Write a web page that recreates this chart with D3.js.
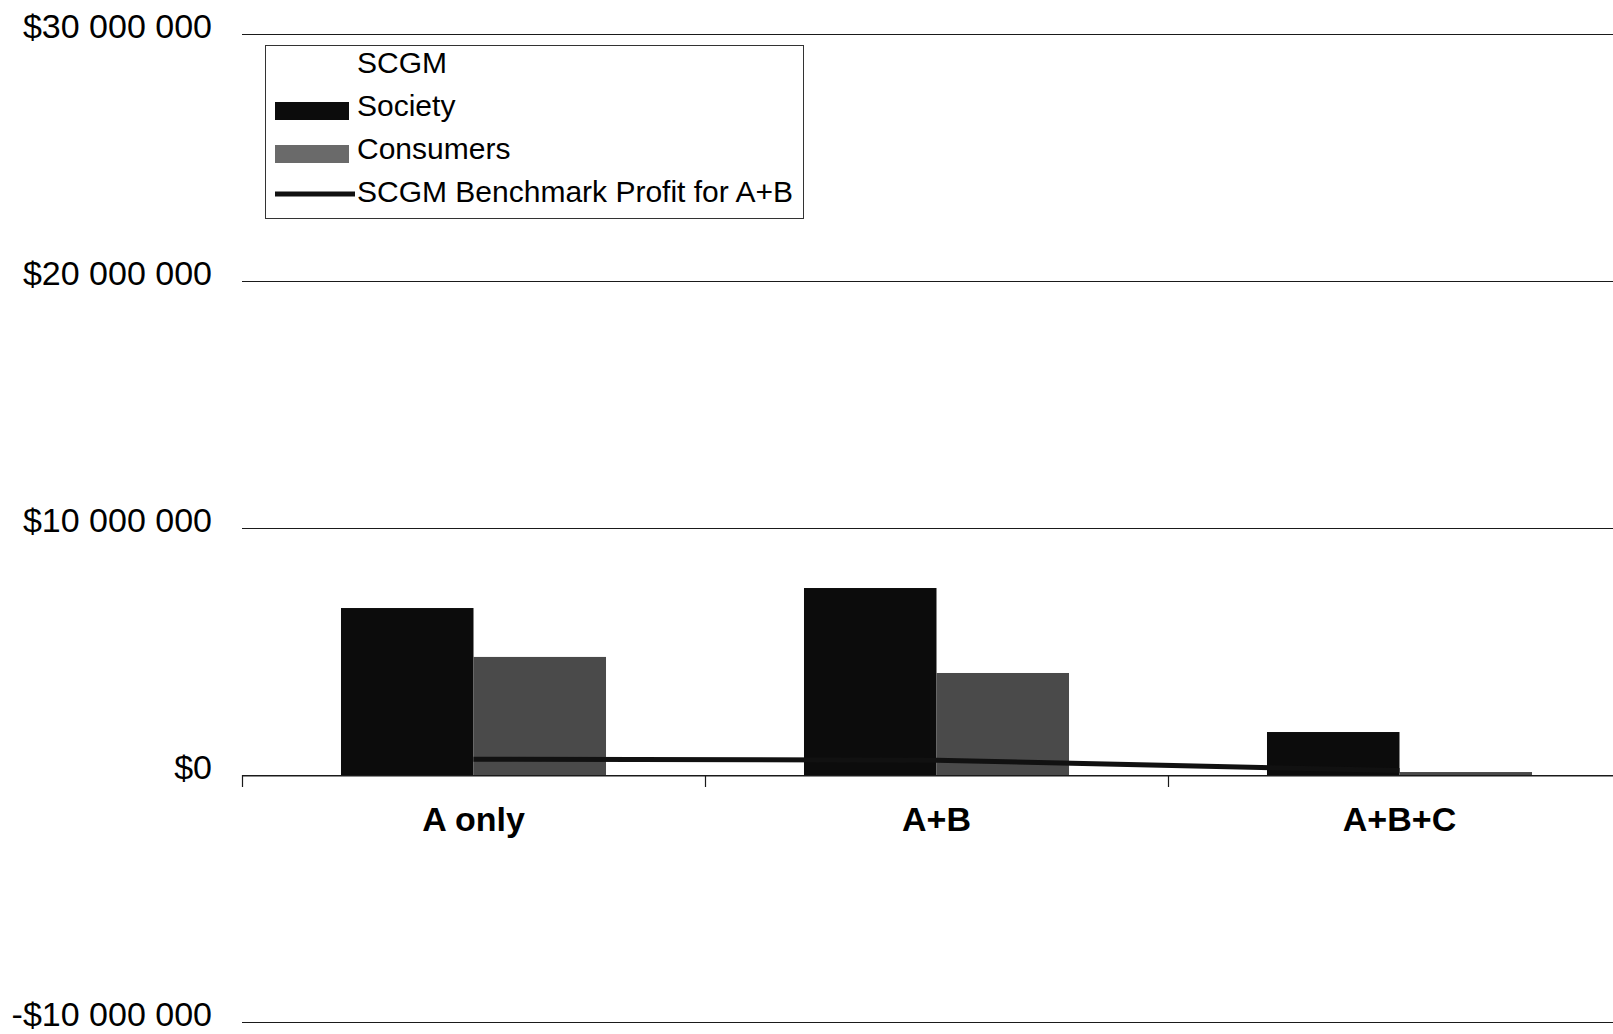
<!DOCTYPE html>
<html>
<head>
<meta charset="utf-8">
<script src="https://cdn.jsdelivr.net/npm/d3@7"></script>
<style>
  html, body { margin: 0; padding: 0; background: #fff; }
  svg { display: block; font-family: "Liberation Sans", Arial, sans-serif; }
</style>
</head>
<body>
<svg id="chart" width="1613" height="1034"></svg>
<script>
// Scenarios along the x axis
const categories = ["A only", "A+B", "A+B+C"];
// Bar series (dollars)
const societyValues = [6760000, 7570000, 1740000];
const consumerValues = [4780000, 4130000, 120000];
// Line series (dollars)
const benchmarkValues = [640000, 600000, 180000];
// Value axis ticks
const yTicks = [-10000000, 0, 10000000, 20000000, 30000000];
const yTickLabels = ["-$10 000 000", "$0", "$10 000 000", "$20 000 000", "$30 000 000"];
// Legend entries
const legendLabels = ["SCGM", "Society", "Consumers", "SCGM Benchmark Profit for A+B"];

const seriesNames = ["Society", "Consumers"];
const seriesColors = { Society: "#0c0c0c", Consumers: "#4a4a4a" };

const svg = d3.select("#chart");

const plot = { left: 242, right: 1631, top: 34, bottom: 1022 };

const y = d3.scaleLinear()
  .domain([-10000000, 30000000])
  .range([plot.bottom, plot.top]);

const x0 = d3.scaleBand()
  .domain(categories)
  .range([plot.left, plot.right])
  .padding(0);

const x1 = d3.scaleBand()
  .domain(seriesNames)
  .range([0, x0.bandwidth()])
  .paddingInner(0)
  .paddingOuter(0.747);

// Horizontal gridlines
svg.append("g")
  .selectAll("line")
  .data(yTicks)
  .join("line")
  .attr("x1", plot.left)
  .attr("x2", plot.right)
  .attr("y1", d => Math.round(y(d)) + 0.5)
  .attr("y2", d => Math.round(y(d)) + 0.5)
  .attr("stroke", "#1a1a1a")
  .attr("stroke-width", 1.2);

// Value axis labels
svg.append("g")
  .selectAll("text")
  .data(yTicks)
  .join("text")
  .attr("x", 212)
  .attr("y", d => y(d) + 3.5)
  .attr("text-anchor", "end")
  .attr("font-size", 34)
  .attr("fill", "#000")
  .text((d, i) => yTickLabels[i]);

// Category axis at zero
const xAxis = d3.axisBottom(x0).tickSize(0).tickFormat("");
svg.append("g")
  .attr("transform", `translate(0,${Math.round(y(0)) + 0.5})`)
  .call(xAxis)
  .call(g => g.select(".domain").attr("stroke", "#1a1a1a").attr("stroke-width", 1.2))
  .call(g => g.selectAll(".tick").remove());

// Tick marks between category groups
svg.append("g")
  .selectAll("line")
  .data(categories.concat([null]))
  .join("line")
  .attr("x1", (d, i) => i < categories.length ? x0(d) + 0.5 : plot.right)
  .attr("x2", (d, i) => i < categories.length ? x0(d) + 0.5 : plot.right)
  .attr("y1", y(0))
  .attr("y2", y(0) + 12)
  .attr("stroke", "#1a1a1a")
  .attr("stroke-width", 1.2);

// Category labels
svg.append("g")
  .selectAll("text")
  .data(categories)
  .join("text")
  .attr("x", d => x0(d) + x0.bandwidth() / 2)
  .attr("y", y(0) + 56)
  .attr("text-anchor", "middle")
  .attr("font-size", 34)
  .attr("font-weight", "bold")
  .attr("fill", "#000")
  .text(d => d);

// Grouped bars
const rows = categories.map((c, i) => ({
  category: c,
  values: [
    { key: "Society", value: societyValues[i] },
    { key: "Consumers", value: consumerValues[i] }
  ]
}));

svg.append("g")
  .selectAll("g")
  .data(rows)
  .join("g")
  .attr("transform", d => `translate(${x0(d.category)},0)`)
  .selectAll("rect")
  .data(d => d.values)
  .join("rect")
  .attr("x", d => x1(d.key))
  .attr("width", x1.bandwidth())
  .attr("y", d => y(Math.max(0, d.value)))
  .attr("height", d => Math.abs(y(d.value) - y(0)))
  .attr("fill", d => seriesColors[d.key]);

// Benchmark profit line
const line = d3.line()
  .x((d, i) => x0(categories[i]) + x0.bandwidth() / 2)
  .y(d => y(d));

svg.append("path")
  .datum(benchmarkValues)
  .attr("d", line)
  .attr("fill", "none")
  .attr("stroke", "#111")
  .attr("stroke-width", 5);

// Legend
const legend = svg.append("g").attr("transform", "translate(265,45)");
legend.append("rect")
  .attr("x", 0.5).attr("y", 0.5)
  .attr("width", 538).attr("height", 173)
  .attr("fill", "#fff")
  .attr("stroke", "#333")
  .attr("stroke-width", 1);

const legendRows = [18, 61, 104, 147];
legend.selectAll("text")
  .data(legendLabels)
  .join("text")
  .attr("x", 92)
  .attr("y", (d, i) => legendRows[i] + 10)
  .attr("font-size", 30)
  .attr("fill", "#000")
  .text(d => d);

legend.append("rect")
  .attr("x", 10).attr("y", legendRows[1] - 4)
  .attr("width", 74).attr("height", 18)
  .attr("fill", seriesColors.Society);
legend.append("rect")
  .attr("x", 10).attr("y", legendRows[2] - 4)
  .attr("width", 74).attr("height", 18)
  .attr("fill", "#6a6a6a");
legend.append("line")
  .attr("x1", 10).attr("x2", 90)
  .attr("y1", legendRows[3] + 2).attr("y2", legendRows[3] + 2)
  .attr("stroke", "#111")
  .attr("stroke-width", 5);
</script>
</body>
</html>
